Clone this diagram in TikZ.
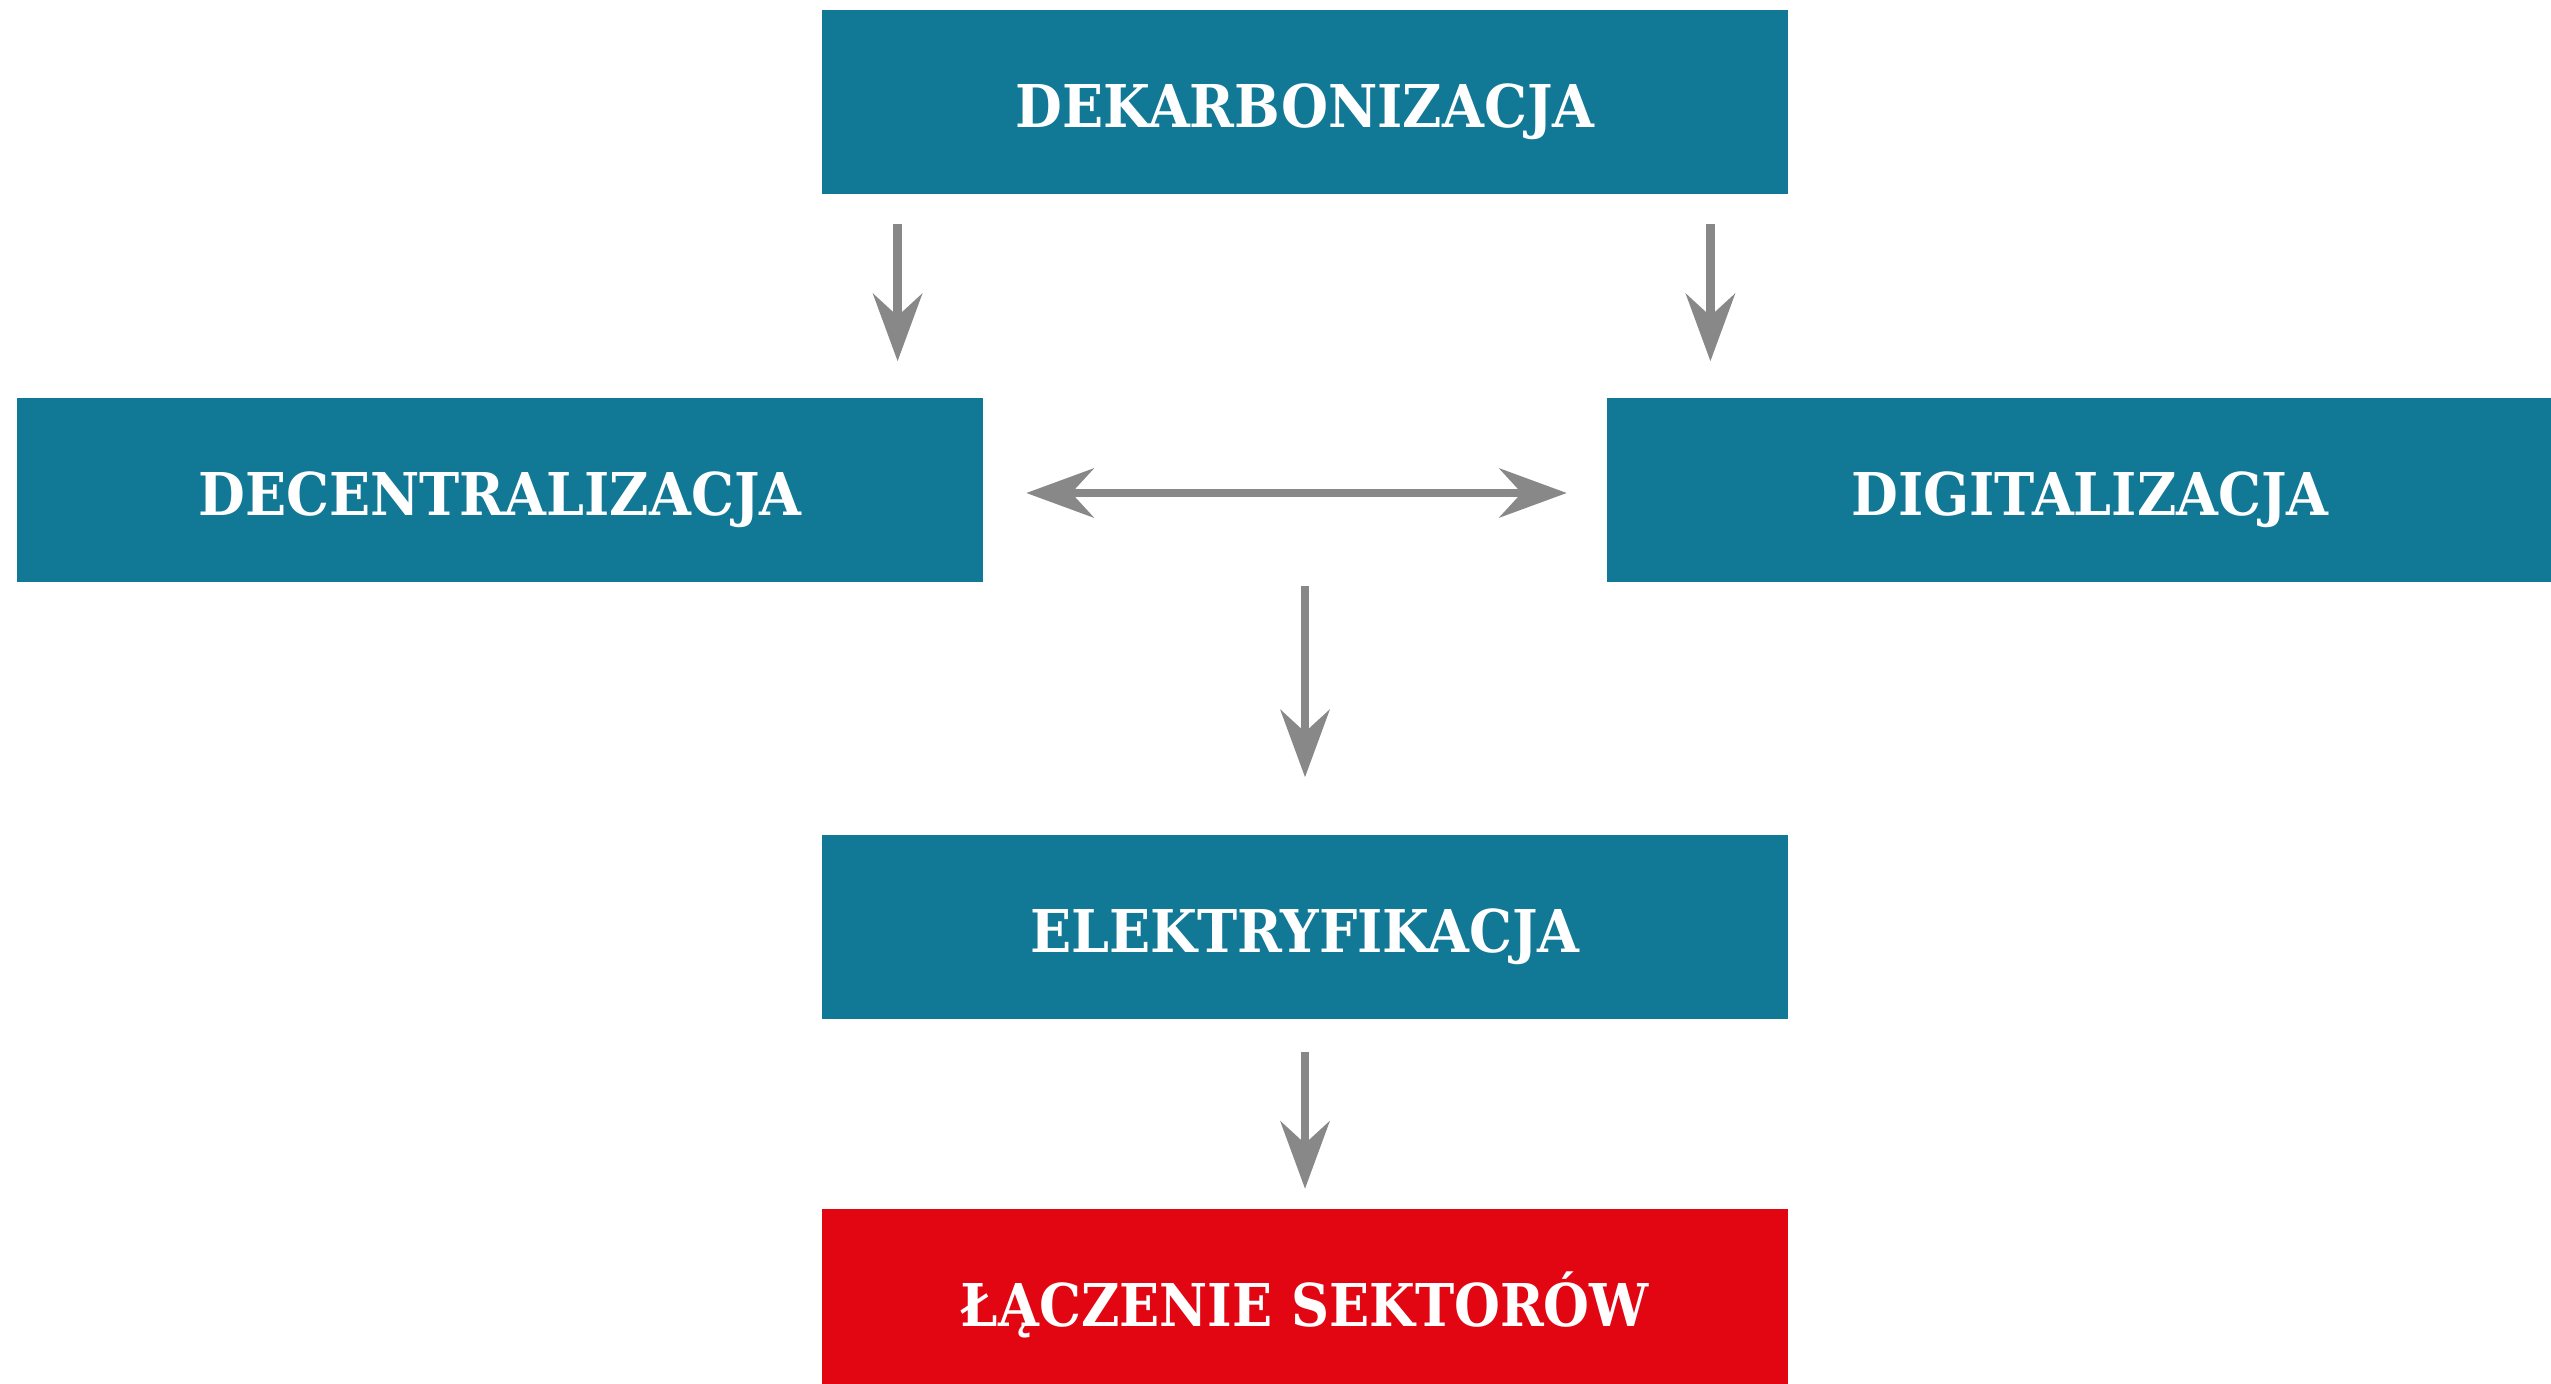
\documentclass[tikz,border=0pt]{standalone}
\usepackage{fontspec}
\usepackage{graphicx}
\newfontfamily\slab{DejaVu Serif}
\usetikzlibrary{arrows.meta}
\definecolor{tealbox}{RGB}{17,120,149}
\definecolor{redbox}{RGB}{226,6,19}
\definecolor{arrgray}{RGB}{136,136,136}
\newcommand\sqz[1]{\scalebox{0.915}[1]{#1}}
\tikzset{
  box/.style={fill=tealbox, minimum width=483pt, minimum height=92pt, inner sep=0pt,
    text=white, text height=25.5pt, text depth=0pt,
    font=\slab\bfseries\fontsize{29.5}{30}\selectfont},
  finalbox/.style={box, fill=redbox},
  conn/.style={draw=arrgray, line width=4.25pt,
    -{Stealth[length=34pt, width=25pt, inset=11.5pt, line width=0pt]}},
  conn2/.style={draw=arrgray, line width=4.25pt,
    {Stealth[length=34pt, width=25pt, inset=11.5pt, line width=0pt]}-{Stealth[length=34pt, width=25pt, inset=11.5pt, line width=0pt]}},
}
\begin{document}
\begin{tikzpicture}[x=0.5pt,y=-0.5pt]
\useasboundingbox (0,0) rectangle (2551,1384);
\clip (0,0) rectangle (2551,1384);
\node[box] (dek) at (1305,102) {\sqz{DEKARBONIZACJA}};
\node[box] (dec) at (500,490.5) {\sqz{DECENTRALIZACJA}};
\node[box] (dig) at (2090,490.5) {\sqz{DIGITALIZACJA}};
\node[box] (elek) at (1305,926.5) {\sqz{ELEKTRYFIKACJA}};
\node[finalbox] (lacz) at (1305,1301) {\scalebox{0.893}[1]{ŁĄCZENIE SEKTORÓW}};
\coordinate (l1) at ([xshift=38pt]dek.south west);
\coordinate (r1) at ([xshift=-39pt]dek.south east);
\draw[conn, shorten <=15pt, shorten >=18.5pt] (l1) -- (l1 |- dec.north);
\draw[conn, shorten <=15pt, shorten >=18.5pt] (r1) -- (r1 |- dig.north);
\draw[conn2, shorten <=21.5pt, shorten >=20pt] ([yshift=-1.25pt]dec.east) -- ([yshift=-1.25pt]dig.west);
\draw[conn, shorten <=1.5pt, shorten >=28.5pt] (elek.north |- dec.south) -- (elek.north);
\draw[conn, shorten <=16.5pt, shorten >=10pt] (elek.south) -- (lacz.north);
\end{tikzpicture}
\end{document}
